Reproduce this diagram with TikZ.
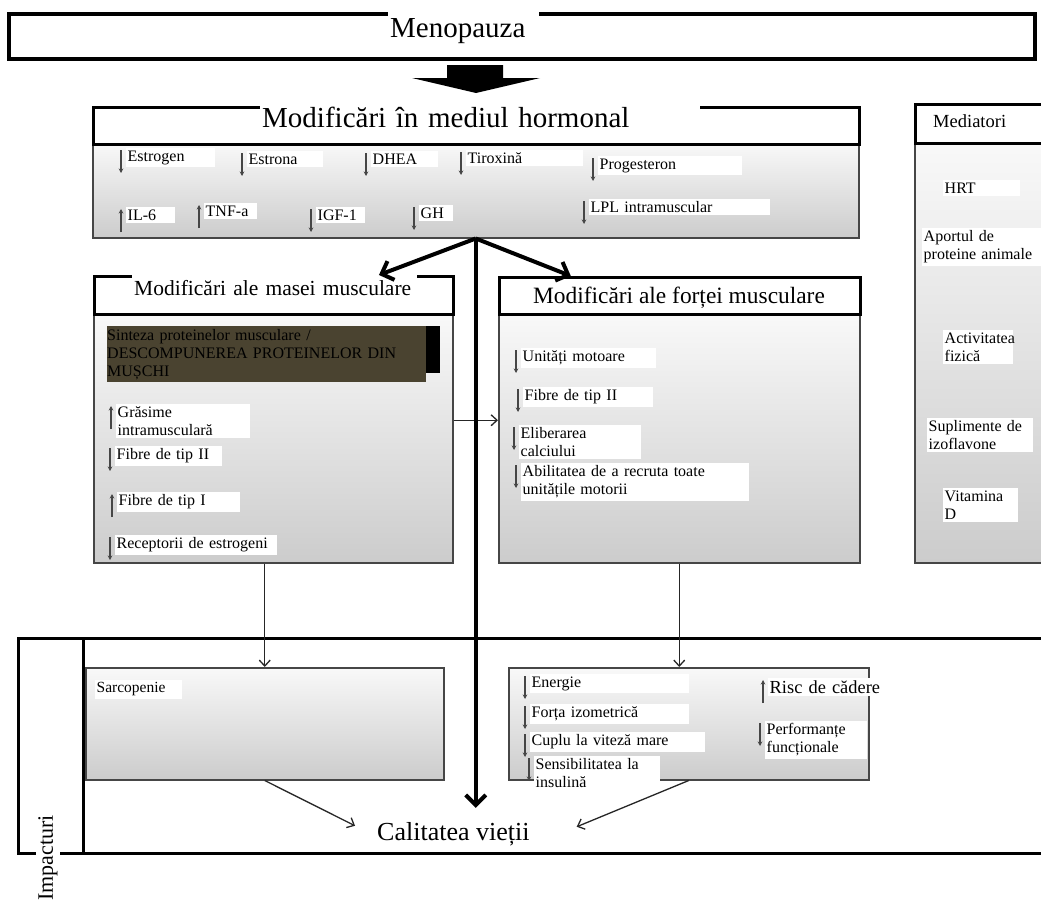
\documentclass[tikz,border=0pt]{standalone}
\usepackage{fontspec}
\setmainfont{Liberation Serif}
\usepackage{tikz}
\usetikzlibrary{arrows.meta,calc}
\definecolor{protbrown}{HTML}{4A4330}

\begin{document}
\begin{tikzpicture}[
x=1pt, y=-1pt,
head/.style={draw, line width=3pt, fill=white, anchor=north west, inner sep=0pt},
body/.style={draw=gray!55!black, line width=1.5pt, top color=gray!5, bottom color=gray!40, anchor=north west, inner sep=0pt},
ttl/.style={fill=white, anchor=base west, inner xsep=2pt, inner ysep=7pt},
item/.style={fill=white, anchor=north west, inner xsep=1.5pt, inner ysep=2.5pt, font=\fontsize{16}{18}\selectfont},
trend/.style={draw=gray!55!black, line width=1.1pt, -{Stealth[length=4.5pt, width=4.5pt]}},
decr/.style={append after command={([xshift=-5pt,yshift=-2pt]\tikzlastnode.north west) edge[trend] ([xshift=-5pt,yshift=-25pt]\tikzlastnode.north west)}},
incr/.style={append after command={([xshift=-5pt,yshift=-25pt]\tikzlastnode.north west) edge[trend] ([xshift=-5pt,yshift=-2pt]\tikzlastnode.north west)}},
thickarr/.style={-{Straight Barb[length=10pt, width=20pt]}, line width=4pt},
arr/.style={-{Straight Barb[length=6pt, width=11pt]}, line width=1.3pt, draw=black!85},
]
\path[use as bounding box, fill=white] (0,0) rectangle (1041,902);

% menopause
\node[head, line width=3.5pt, minimum width=1026pt, minimum height=45pt] (meno) at (7,12) {};
\node[ttl, text width=147pt, inner ysep=8pt, font=\fontsize{29}{32}\selectfont] (menottl) at (388,37) {Menopauza};
\fill (447,65) -- (503,65) -- (503,78) -- (540,78) -- (476,93) -- (412,78) -- (447,78) -- cycle;

% hormonal environment
\node[body, minimum width=766pt, minimum height=95pt] (hormbody) at (92,142) {};
\node[head, minimum width=766pt, minimum height=37pt] (hormhead) at (92,106) {};
\node[ttl, text width=436pt, inner ysep=5pt, font=\fontsize{29}{32}\selectfont] (hormttl) at (260,127) {Modificări în mediul hormonal};
\node[item, decr, text width=86pt] (estrogen) at (126,148) {Estrogen};
\node[item, decr, text width=73pt] (estrona) at (247,151) {Estrona};
\node[item, decr, text width=64pt] (dhea) at (371,151) {DHEA};
\node[item, decr, text width=114pt] (tiroxina) at (466,150) {Tiroxină};
\node[item, decr, text width=141pt] (progest) at (598,156) {Progesteron};
\node[item, incr, text width=46pt] (il6) at (126,207) {IL-6};
\node[item, incr, text width=50pt] (tnf) at (204,203) {TNF-a};
\node[item, decr, text width=46pt] (igf) at (316,207) {IGF-1};
\node[item, decr, text width=31pt] (gh) at (419,205) {GH};
\node[item, decr, text width=178pt] (lpl) at (589,199) {LPL intramuscular};

% muscle mass
\node[body, minimum width=359pt, minimum height=249pt] (masabody) at (93,313) {};
\node[head, minimum width=359pt, minimum height=38pt] (masahead) at (93,275) {};
\node[ttl, text width=281pt, font=\fontsize{21.5}{24}\selectfont] (masattl) at (132,295) {Modificări ale masei musculare};
\fill (107,326) rectangle (440,373);
\node[anchor=north west, fill=protbrown, text width=319pt, inner xsep=0pt, inner ysep=1pt, minimum height=56pt, font=\fontsize{16}{18}\selectfont] (sinteza) at (107,326) {Sinteza proteinelor musculare /\\DESCOMPUNEREA PROTEINELOR DIN\\MUȘCHI};
\node[item, incr, text width=131pt] (grasime) at (116,404) {Grăsime\\intramusculară};
\node[item, decr, text width=104pt] (fibredoi) at (115,446) {Fibre de tip II};
\node[item, incr, text width=120pt] (fibreunu) at (117,492) {Fibre de tip I};
\node[item, decr, text width=159pt] (receptori) at (115,535) {Receptorii de estrogeni};

% muscle strength
\node[body, minimum width=361pt, minimum height=249pt] (fortabody) at (498,313) {};
\node[head, minimum width=361pt, minimum height=37pt] (fortahead) at (498,276) {};
\node[anchor=base, inner sep=2pt, font=\fontsize{23.4}{26}\selectfont] (fortattl) at (679,303) {Modificări ale forței musculare};
\node[item, decr, text width=132pt] (motoare) at (521,348) {Unități motoare};
\node[item, decr, text width=127pt] (fibretip) at (523,387) {Fibre de tip II};
\node[item, decr, text width=119pt] (calciu) at (519,425) {Eliberarea\\calciului};
\node[item, decr, text width=225pt] (recruta) at (521,463) {Abilitatea de a recruta toate\\unitățile motorii};

% mediators
\node[body, minimum width=140pt, minimum height=420pt] (medbody) at (914,142) {};
\node[head, minimum width=140pt, minimum height=39pt] (medhead) at (914,103) {};
\node[ttl, inner ysep=3pt, font=\fontsize{18.5}{21}\selectfont] (medttl) at (931,127) {Mediatori};
\node[item, text width=74pt] (hrt) at (943,180) {HRT};
\node[item, text width=116pt] (aport) at (922,228) {Aportul de\\proteine animale};
\node[item, text width=67pt] (activ) at (943,330) {Activitatea\\fizică};
\node[item, text width=103pt] (supl) at (927,418) {Suplimente de\\izoflavone};
\node[item, text width=72pt] (vitd) at (943,488) {Vitamina\\D};

% impacts
\node[draw, line width=3pt, anchor=north west, minimum width=1040pt, minimum height=215pt, inner sep=0pt] (impact) at (17,637) {};
\draw[line width=3pt] ([xshift=66pt]impact.north west) -- ([xshift=66pt]impact.south west);
\node[body, minimum width=358pt, minimum height=112pt] (sarcobox) at (85,667) {};
\node[body, minimum width=360pt, minimum height=112pt] (imprbox) at (508,667) {};
\node[ttl, rotate=90, anchor=center, inner ysep=2pt, font=\fontsize{22}{24}\selectfont] (implbl) at (48,858) {Impacturi};
\node[anchor=base west, inner sep=2pt, font=\fontsize{26}{28}\selectfont] (qol) at (375,840) {Calitatea vieții};
\node[item, text width=84pt, font=\fontsize{15.5}{18}\selectfont] (sarco) at (95,680) {Sarcopenie};
\node[item, decr, text width=156pt] (energie) at (530,674) {Energie};
\node[item, decr, text width=156pt] (fortaiz) at (530,704) {Forța izometrică};
\node[item, decr, text width=172pt] (cuplu) at (530,732) {Cuplu la viteză mare};
\node[item, decr, text width=123pt] (insulina) at (534,756) {Sensibilitatea la\\insulină};
\node[item, incr, text width=112pt, font=\fontsize{18.4}{21}\selectfont] (risc) at (768,678) {Risc de cădere};
\node[item, decr, text width=99pt] (perf) at (765,721) {Performanțe\\funcționale};

% connectors
\draw[arr] ([yshift=18pt]masabody.east) -- ([yshift=18pt]fortabody.west);
\draw[arr] (masabody.south -| sarcobox.north) -- (sarcobox.north);
\draw[arr] (fortabody.south) -- (fortabody.south |- imprbox.north);
\draw[arr] (sarcobox.south) -- ([xshift=-20pt,yshift=8pt]qol.west);
\draw[arr] (imprbox.south) -- ([xshift=45pt,yshift=7pt]qol.east);
\draw[thickarr] (hormbody.south) -- ($(masahead.north west)!0.79!(masahead.north east)$);
\draw[thickarr] (hormbody.south) -- ($(fortahead.north west)!0.2!(fortahead.north east)$);
\draw[thickarr, shorten >=12pt] (hormbody.south) -- (hormbody.south |- qol.north);
\end{tikzpicture}
\end{document}
